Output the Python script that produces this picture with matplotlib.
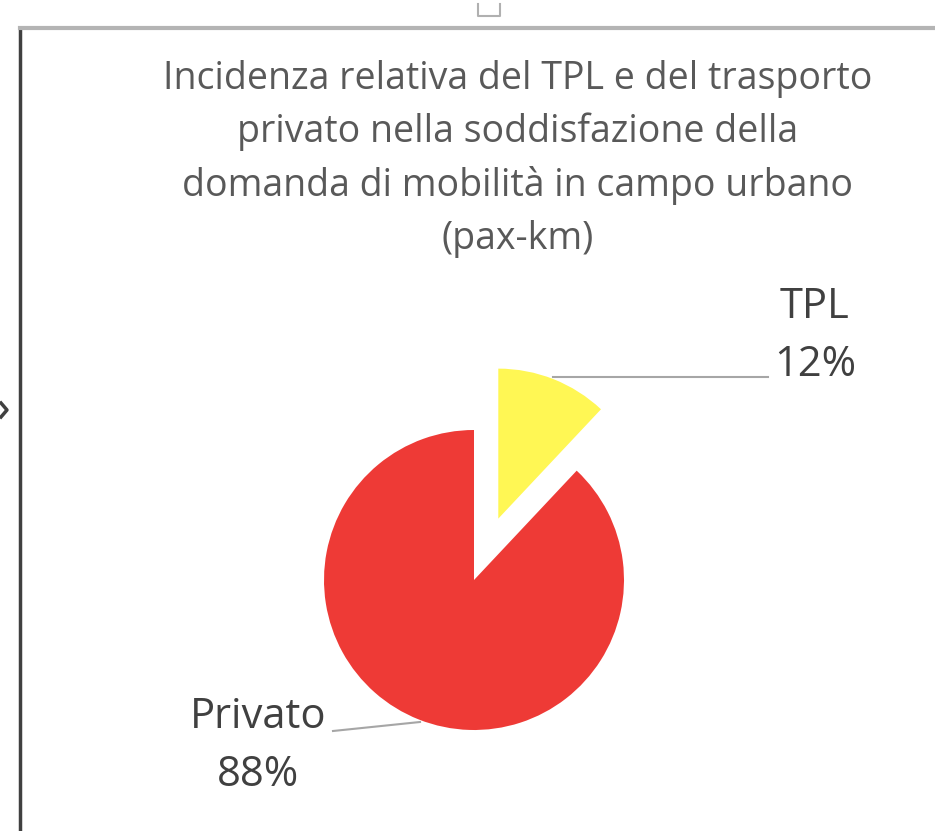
import numpy as np
from matplotlib import pyplot as plt

# data
labels = ['TPL', 'Privato']
values = [12, 88]
colors = ['#FFF754', '#EE3A36']
title = ('Incidenza relativa del TPL e del trasporto\n'
         'privato nella soddisfazione della\n'
         'domanda di mobilità in campo urbano\n'
         '(pax-km)')

W, H = 935, 831
fig = plt.figure(figsize=(W / 100, H / 100), dpi=100)
ax = fig.add_axes([0, 0, 1, 1])

# pie, pixel-ish coordinates (y measured from bottom)
cx, cy, r = 474, H - 580, 150
wedges, _ = ax.pie(values, colors=colors, startangle=90, counterclock=False,
                   center=(cx, cy), radius=r, explode=[66, 0],
                   wedgeprops=dict(linewidth=0), frame=True)
ax.set_xlim(0, W)
ax.set_ylim(0, H)
ax.set_aspect('equal')
ax.axis('off')

font = 'Open Sans'
ax.text(518, H - 159, title, ha='center', va='center', fontsize=27,
        color='#595959', family=font, linespacing=1.5)

# labels with leader lines
ax.text(815, H - 336, labels[0] + '\n' + f'{values[0]}%', ha='center', va='center',
        fontsize=30, color='#404040', family=font, linespacing=1.5)
ax.plot([553, 768], [H - 377, H - 377], color='#a6a6a6', lw=1.5)

ax.text(258, H - 746, labels[1] + '\n' + f'{values[1]}%', ha='center', va='center',
        fontsize=30, color='#404040', family=font, linespacing=1.5)
ax.plot([333, 420], [H - 731, H - 722], color='#a6a6a6', lw=1.5)

# chart frame bits from the screenshot
ax.plot([20, 20], [0, H - 28], color='#404040', lw=2.5)
ax.plot([20, W], [H - 28, H - 28], color='#b4b4b4', lw=3)
ax.plot([478, 478, 500, 500], [H - 4, H - 16, H - 16, H - 4], color='#b0b0b0', lw=1.5)
ax.plot([1, 7, 1], [H - 403, H - 410, H - 417], color='#404040', lw=2.5)

fig.savefig('out.png', dpi=100)
